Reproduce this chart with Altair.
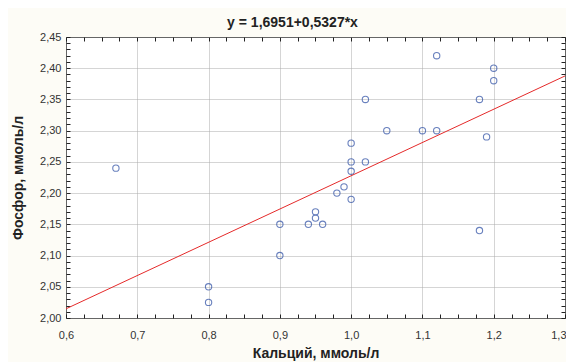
import altair as alt
import pandas as pd

# ---- data ----
calcium = [0.67, 0.80, 0.80, 0.90, 0.90, 0.94, 0.95, 0.95, 0.96, 0.98,
           0.99, 1.00, 1.00, 1.00, 1.00, 1.02, 1.02, 1.05, 1.10, 1.12,
           1.12, 1.18, 1.19, 1.18, 1.20, 1.20]
phosphorus = [2.24, 2.05, 2.025, 2.15, 2.10, 2.15, 2.17, 2.16, 2.15, 2.20,
              2.21, 2.19, 2.235, 2.25, 2.28, 2.35, 2.25, 2.30, 2.30, 2.30,
              2.42, 2.35, 2.29, 2.14, 2.40, 2.38]

INTERCEPT = 1.6951
SLOPE = 0.5327
line_x = [0.6, 1.3]

x_major = [0.6, 0.7, 0.8, 0.9, 1.0, 1.1, 1.2, 1.3]
x_minor = [0.6, 0.625, 0.65, 0.675, 0.7, 0.725, 0.75, 0.775, 0.8, 0.825,
           0.85, 0.875, 0.9, 0.925, 0.95, 0.975, 1.0, 1.025, 1.05, 1.075,
           1.1, 1.125, 1.15, 1.175, 1.2, 1.225, 1.25, 1.275, 1.3]
y_major = [2.00, 2.05, 2.10, 2.15, 2.20, 2.25, 2.30, 2.35, 2.40, 2.45]
y_minor = [2.00, 2.01, 2.02, 2.03, 2.04, 2.05, 2.06, 2.07, 2.08, 2.09,
           2.10, 2.11, 2.12, 2.13, 2.14, 2.15, 2.16, 2.17, 2.18, 2.19,
           2.20, 2.21, 2.22, 2.23, 2.24, 2.25, 2.26, 2.27, 2.28, 2.29,
           2.30, 2.31, 2.32, 2.33, 2.34, 2.35, 2.36, 2.37, 2.38, 2.39,
           2.40, 2.41, 2.42, 2.43, 2.44, 2.45]

TITLE = "y = 1,6951+0,5327*x"
X_TITLE = "Кальций, ммоль/л"
Y_TITLE = "Фосфор, ммоль/л"

pts = pd.DataFrame({"x": calcium, "y": phosphorus})
ln = pd.DataFrame({"x": line_x})

xscale = alt.Scale(domain=[0.6, 1.3], nice=False, zero=False)
yscale = alt.Scale(domain=[2.0, 2.45], nice=False, zero=False)

FONT = "Liberation Sans"
x_major_test = "abs(datum.value*10 - round(datum.value*10)) < 0.001"
y_major_test = "abs(datum.value*20 - round(datum.value*20)) < 0.001"

grid_common = dict(grid=True, gridColor="#ababab", gridDash=[1, 1], gridWidth=1,
                   ticks=False, labels=False, domain=False, title=None)

points = alt.Chart(pts).mark_point(
    shape="circle", filled=False, color="#2a4ca3", size=40, strokeWidth=1.1
).encode(
    x=alt.X("x:Q", scale=xscale, axis=alt.Axis(orient="bottom", values=x_major, **grid_common)),
    y=alt.Y("y:Q", scale=yscale, axis=alt.Axis(orient="left", values=y_major, **grid_common)),
)

line = alt.Chart(ln).transform_calculate(
    y=f"{INTERCEPT} + {SLOPE} * datum.x"
).mark_line(color="#e52a2a", strokeWidth=1).encode(
    x=alt.X("x:Q", scale=xscale, axis=alt.Axis(
        orient="bottom", values=x_minor, offset=-4, tickSize=4, tickColor="#222",
        domain=False, grid=False, labelPadding=11, labelFont=FONT, labelFontSize=11,
        labelColor="#333", labelFlush=False,
        labelAlign={"condition": {"test": "datum.value > 1.29", "value": "right"},
                    "value": "center"},
        labelOffset={"condition": {"test": "datum.value > 1.29", "value": 1},
                     "value": 0},
        labelExpr=f"{x_major_test} ? replace(format(datum.value, '.1f'), '.', ',') : ''",
        title=X_TITLE, titleFont=FONT, titleFontSize=14, titleFontWeight="bold",
        titleColor="#222", titlePadding=6)),
    y=alt.Y("y:Q", scale=yscale, axis=alt.Axis(
        orient="left", values=y_minor, offset=-4, tickSize=4, tickColor="#222",
        domain=False, grid=False, labelPadding=5, labelFont=FONT, labelFontSize=11,
        labelColor="#333", labelFlush=False,
        labelExpr=f"{y_major_test} ? replace(format(datum.value, '.2f'), '.', ',') : ''",
        title=Y_TITLE, titleFont=FONT, titleFontSize=14, titleFontWeight="bold",
        titleColor="#222", titlePadding=14)),
)

frame_ticks = alt.Chart(ln).transform_calculate(
    y=f"{INTERCEPT} + {SLOPE} * datum.x"
).mark_line(strokeOpacity=0).encode(
    x=alt.X("x:Q", scale=xscale, axis=alt.Axis(
        orient="top", values=x_minor, offset=-4, tickSize=4, tickColor="#222",
        domain=False, grid=False, labels=False, title=None)),
    y=alt.Y("y:Q", scale=yscale, axis=alt.Axis(
        orient="right", values=y_minor, offset=-4, tickSize=4, tickColor="#222",
        domain=False, grid=False, labels=False, title=None)),
)

chart = alt.layer(points, line, frame_ticks).resolve_axis(
    x="independent", y="independent"
).properties(
    width=499,
    height=281,
    title=alt.TitleParams(TITLE, font=FONT, fontSize=14, fontWeight="bold",
                          color="#222", anchor="middle", dx=-23, offset=1),
    autosize=alt.AutoSizeParams(type="none"),
    padding={"left": 58, "top": 29, "right": 1, "bottom": 60},
    background="#fdfcf6",
).configure_view(
    fill="white", stroke="#222", strokeWidth=1
)

chart.save("out.html", embed_options={"renderer": "svg", "actions": False})
